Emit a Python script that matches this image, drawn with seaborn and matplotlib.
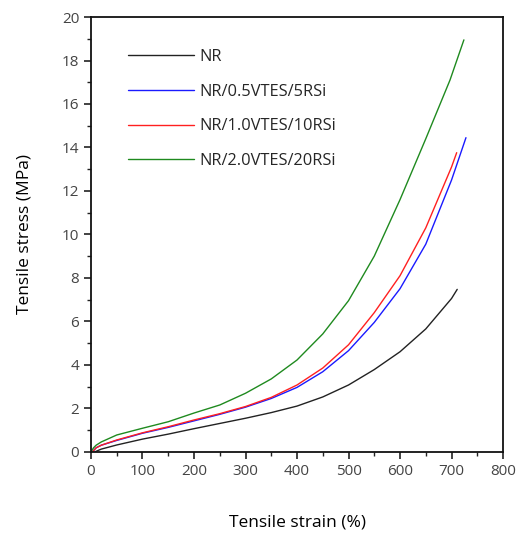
import numpy as np
import pandas as pd
import matplotlib
matplotlib.use("Agg")
import matplotlib.pyplot as plt
import seaborn as sns
from matplotlib.ticker import MultipleLocator

labels = ["NR", "NR/0.5VTES/5RSi", "NR/1.0VTES/10RSi", "NR/2.0VTES/20RSi"]
colors = ["#222222", "#1a1aff", "#ff2020", "#1f8a1f"]

nr_x = [8, 20, 50, 100, 150, 200, 250, 300, 350, 400, 450, 500, 550, 600, 650, 700, 711]
nr_y = [0, 0.12, 0.31, 0.58, 0.81, 1.06, 1.30, 1.54, 1.80, 2.10, 2.52, 3.07, 3.78, 4.60, 5.65, 7.05, 7.47]

b_x = [3, 10, 20, 50, 100, 150, 200, 250, 300, 350, 400, 450, 500, 550, 600, 650, 700, 728]
b_y = [0, 0.18, 0.30, 0.52, 0.85, 1.12, 1.42, 1.72, 2.05, 2.45, 2.96, 3.68, 4.65, 5.95, 7.50, 9.55, 12.5, 14.45]

r_x = [3, 10, 20, 50, 100, 150, 200, 250, 300, 350, 400, 450, 500, 550, 600, 650, 700, 710]
r_y = [0, 0.18, 0.30, 0.54, 0.87, 1.15, 1.46, 1.75, 2.08, 2.50, 3.07, 3.85, 4.92, 6.40, 8.10, 10.3, 13.1, 13.76]

g_x = [0, 5, 10, 20, 50, 100, 150, 200, 250, 300, 350, 400, 450, 500, 550, 600, 650, 697, 724]
g_y = [0, 0.18, 0.30, 0.45, 0.77, 1.08, 1.38, 1.78, 2.15, 2.69, 3.35, 4.22, 5.42, 6.95, 9.00, 11.6, 14.4, 17.1, 18.95]

frames = []
for lab, xs, ys in zip(labels, [nr_x, b_x, r_x, g_x], [nr_y, b_y, r_y, g_y]):
    frames.append(pd.DataFrame({"strain": xs, "stress": ys, "sample": lab}))
df = pd.concat(frames, ignore_index=True)

sns.set_style("ticks")
plt.rcParams["font.family"] = ["Open Sans", "DejaVu Sans"]

fig = plt.figure(figsize=(5.17, 5.33), dpi=100)
ax = fig.add_axes([0.176, 0.1525, 0.797, 0.8155])

sns.lineplot(data=df, x="strain", y="stress", hue="sample", hue_order=labels,
             palette=colors, sort=False, estimator=None, linewidth=1.0, ax=ax)

ax.set_xlim(0, 800)
ax.set_ylim(0, 20)
ax.xaxis.set_major_locator(MultipleLocator(100))
ax.xaxis.set_minor_locator(MultipleLocator(50))
ax.yaxis.set_major_locator(MultipleLocator(2))
ax.yaxis.set_minor_locator(MultipleLocator(1))
ax.tick_params(which="major", direction="out", length=5, width=1.2, labelsize=11,
               labelcolor="#444444", color="#222222", top=False, right=False)
ax.tick_params(which="minor", direction="out", length=3, width=1.0, color="#222222",
               top=False, right=False)
for s in ax.spines.values():
    s.set_visible(True)
    s.set_linewidth(1.3)
    s.set_color("#111111")

ax.set_xlabel("Tensile strain (%)", fontsize=12.5, color="black", labelpad=26)
ax.set_ylabel("Tensile stress (MPa)", fontsize=12.5, color="black", labelpad=21)

ax.legend(loc="upper left", bbox_to_anchor=(0.09, 0.926), frameon=False,
          fontsize=11.8, handlelength=4.0, handletextpad=0.37, labelspacing=1.13,
          borderaxespad=0, borderpad=0, title=None)

fig.savefig("out.png", dpi=100)
